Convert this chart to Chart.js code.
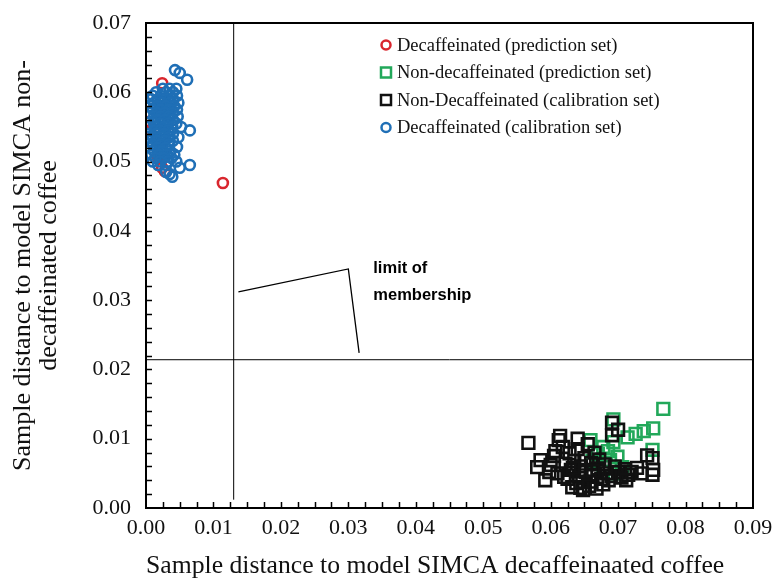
<!DOCTYPE html>
<html>
<head>
<meta charset="utf-8">
<script src="https://cdn.jsdelivr.net/npm/chart.js@4"></script>
<style>
  body { margin: 0; background: #fff; }
  #wrap { width: 774px; height: 582px; }
</style>
</head>
<body>
<div id="wrap"><canvas id="simcaChart" width="774" height="582"></canvas></div>
<script>
// Coomans plot data
const decafPredX = [0.0024, 0.0003, 0.0006, 0.0024, 0.0028, 0.0114, 0.0015, 0.0030, 0.0018];
const decafPredY = [0.0613, 0.0557, 0.0545, 0.0491, 0.0486, 0.0469, 0.0530, 0.0578, 0.0505];

const nonDecafPredX = [0.0767, 0.0752, 0.0738, 0.0726, 0.0714, 0.0693, 0.0693, 0.0678, 0.0659, 0.0688, 0.0699, 0.0751, 0.0706, 0.0678, 0.0670, 0.0685, 0.0662, 0.0695];
const nonDecafPredY = [0.0143, 0.0115, 0.0111, 0.0107, 0.0102, 0.0128, 0.0095, 0.0088, 0.0098, 0.0069, 0.0074, 0.0084, 0.0059, 0.0059, 0.0078, 0.0082, 0.0068, 0.0050];

const nonDecafCalX = [0.0567, 0.0614, 0.0691, 0.0691, 0.0743, 0.0751, 0.0752, 0.0751, 0.0728, 0.0632, 0.0644, 0.0592, 0.0580, 0.0585,
  0.0600, 0.0605, 0.0610, 0.0618, 0.0622, 0.0625, 0.0628, 0.0630, 0.0635, 0.0638, 0.0640, 0.0642, 0.0645, 0.0648, 0.0650, 0.0652,
  0.0655, 0.0658, 0.0660, 0.0662, 0.0665, 0.0668, 0.0670, 0.0672, 0.0675, 0.0678, 0.0680, 0.0683, 0.0686, 0.0690, 0.0695, 0.0700,
  0.0705, 0.0710, 0.0715, 0.0720, 0.0612, 0.0620, 0.0633, 0.0647, 0.0657, 0.0663, 0.0598, 0.0607, 0.0640, 0.0700, 0.0712, 0.0735];
const nonDecafCalY = [0.0094, 0.0104, 0.0123, 0.0105, 0.0076, 0.0072, 0.0055, 0.0048, 0.0058, 0.0030, 0.0029, 0.0040, 0.0059, 0.0069,
  0.0062, 0.0075, 0.0050, 0.0088, 0.0064, 0.0042, 0.0079, 0.0055, 0.0068, 0.0036, 0.0085, 0.0047, 0.0060, 0.0026, 0.0072, 0.0052,
  0.0092, 0.0038, 0.0065, 0.0046, 0.0080, 0.0028, 0.0057, 0.0070, 0.0042, 0.0034, 0.0063, 0.0050, 0.0040, 0.0046, 0.0060, 0.0052,
  0.0044, 0.0056, 0.0048, 0.0052, 0.0098, 0.0045, 0.0058, 0.0038, 0.0032, 0.0054, 0.0052, 0.0082, 0.0100, 0.0113, 0.0040, 0.0050];

const decafCalX = [0.0043, 0.0050, 0.0061,
  0.0025, 0.0035, 0.0045, 0.0015, 0.0030, 0.0040, 0.0010, 0.0022, 0.0035, 0.0046,
  0.0008, 0.0018, 0.0028, 0.0040, 0.0012, 0.0024, 0.0036, 0.0048, 0.0006, 0.0017, 0.0030, 0.0042,
  0.0010, 0.0022, 0.0034, 0.0046, 0.0005, 0.0016, 0.0028, 0.0040, 0.0012, 0.0022, 0.0034, 0.0047,
  0.0013, 0.0018, 0.0028, 0.0040, 0.0012, 0.0021, 0.0033, 0.0045, 0.0004, 0.0015, 0.0027, 0.0039, 0.0052,
  0.0013, 0.0021, 0.0033, 0.0065, 0.0004, 0.0015, 0.0027, 0.0040, 0.0010, 0.0022, 0.0034, 0.0048,
  0.0005, 0.0016, 0.0028, 0.0040, 0.0010, 0.0022, 0.0034, 0.0006, 0.0017, 0.0029, 0.0046,
  0.0012, 0.0024, 0.0036, 0.0008, 0.0019, 0.0031, 0.0042, 0.0014, 0.0026, 0.0038,
  0.0010, 0.0021, 0.0033, 0.0045, 0.0018, 0.0030, 0.0065,
  0.0050, 0.0039, 0.0030, 0.0035];
const decafCalY = [0.0632, 0.0628, 0.0618,
  0.0605, 0.0605, 0.0605, 0.0600, 0.0600, 0.0600, 0.0595, 0.0595, 0.0595, 0.0595,
  0.0590, 0.0590, 0.0590, 0.0590, 0.0585, 0.0585, 0.0585, 0.0585, 0.0580, 0.0580, 0.0580, 0.0580,
  0.0575, 0.0575, 0.0575, 0.0575, 0.0570, 0.0570, 0.0570, 0.0570, 0.0565, 0.0565, 0.0565, 0.0565,
  0.0560, 0.0560, 0.0560, 0.0560, 0.0555, 0.0555, 0.0555, 0.0555, 0.0550, 0.0550, 0.0550, 0.0550, 0.0550,
  0.0545, 0.0545, 0.0545, 0.0545, 0.0540, 0.0540, 0.0540, 0.0540, 0.0535, 0.0535, 0.0535, 0.0535,
  0.0530, 0.0530, 0.0530, 0.0530, 0.0525, 0.0525, 0.0525, 0.0520, 0.0520, 0.0520, 0.0521,
  0.0515, 0.0515, 0.0515, 0.0510, 0.0510, 0.0510, 0.0510, 0.0505, 0.0505, 0.0505,
  0.0500, 0.0500, 0.0500, 0.0500, 0.0495, 0.0495, 0.0495,
  0.0491, 0.0478, 0.0485, 0.0482];

// limits of membership and the pointer lines of the label
const limitX = 0.013;
const limitY = 0.0214;
const pointerX = [0.0137, 0.0300, 0.0316];
const pointerY = [0.0312, 0.0345, 0.0224];

const xTicks = [0, 0.01, 0.02, 0.03, 0.04, 0.05, 0.06, 0.07, 0.08, 0.09];
const yTicks = [0, 0.01, 0.02, 0.03, 0.04, 0.05, 0.06, 0.07];

const legendLabels = ['Decaffeinated (prediction set)', 'Non-decaffeinated (prediction set)',
  'Non-Decaffeinated (calibration set)', 'Decaffeinated (calibration set)'];

const RED = '#d9262e', GREEN = '#22a85a', BLACK = '#111111', BLUE = '#1f6fb6';

function pts(xs, ys) {
  return xs.map((x, i) => ({ x: x, y: ys[i] }));
}

// frame, inside ticks, legend and label text
const decorPlugin = {
  id: 'decor',
  afterDraw(chart) {
    const ctx = chart.ctx;
    const a = chart.chartArea;
    const xs = chart.scales.x, ys = chart.scales.y;
    ctx.save();
    ctx.strokeStyle = '#000';
    ctx.lineWidth = 2;
    ctx.strokeRect(a.left, a.top, a.right - a.left, a.bottom - a.top);
    ctx.lineWidth = 1.5;
    ctx.beginPath();
    for (let i = 1; i < 36; i++) {
      const px = Math.round(xs.getPixelForValue(i * 0.0025)) + 0.5;
      ctx.moveTo(px, a.bottom);
      ctx.lineTo(px, a.bottom - 6);
    }
    for (let i = 1; i < 35; i++) {
      const py = Math.round(ys.getPixelForValue(i * 0.002)) + 0.5;
      ctx.moveTo(a.left, py);
      ctx.lineTo(a.left + 6, py);
    }
    ctx.stroke();

    // legend
    const colors = [RED, GREEN, BLACK, BLUE];
    const styles = ['circle', 'rect', 'rect', 'circle'];
    ctx.font = '18.5px "Liberation Serif"';
    ctx.textBaseline = 'middle';
    ctx.fillStyle = '#111';
    for (let i = 0; i < 4; i++) {
      const y = 45 + i * 27.5;
      ctx.strokeStyle = colors[i];
      ctx.lineWidth = 2.5;
      ctx.beginPath();
      if (styles[i] === 'circle') ctx.arc(386, y, 4.5, 0, Math.PI * 2);
      else ctx.rect(381, y - 5, 10, 10);
      ctx.stroke();
      ctx.fillText(legendLabels[i], 397, y + 1);
    }

    // label
    ctx.font = 'bold 16.5px "Liberation Sans"';
    ctx.fillStyle = '#000';
    ctx.textBaseline = 'middle';
    ctx.fillText('limit of', xs.getPixelForValue(0.0337), ys.getPixelForValue(0.0346));
    ctx.fillText('membership', xs.getPixelForValue(0.0337), ys.getPixelForValue(0.0307));
    ctx.restore();
  }
};

const ctx = document.getElementById('simcaChart').getContext('2d');
new Chart(ctx, {
  type: 'scatter',
  data: {
    datasets: [
      {
        type: 'line', label: 'limitY', data: [{ x: 0, y: limitY }, { x: 0.09, y: limitY }],
        borderColor: '#000', borderWidth: 1, pointRadius: 0, showLine: true, fill: false
      },
      {
        type: 'line', label: 'limitX', data: [{ x: limitX, y: 0.0012 }, { x: limitX, y: 0.07 }],
        borderColor: '#000', borderWidth: 1, pointRadius: 0, showLine: true, fill: false
      },
      {
        type: 'line', label: 'pointer', data: pts(pointerX, pointerY),
        borderColor: '#000', borderWidth: 1.3, pointRadius: 0, showLine: true, fill: false, tension: 0
      },
      {
        label: legendLabels[3], data: pts(decafCalX, decafCalY),
        pointStyle: 'circle', pointRadius: 5, borderColor: BLUE, borderWidth: 2.6, backgroundColor: 'rgba(0,0,0,0)'
      },
      {
        label: legendLabels[0], data: pts(decafPredX, decafPredY),
        pointStyle: 'circle', pointRadius: 5, borderColor: RED, borderWidth: 2.6, backgroundColor: 'rgba(0,0,0,0)'
      },
      {
        label: legendLabels[2], data: pts(nonDecafCalX, nonDecafCalY),
        pointStyle: 'rect', pointRadius: 8.3, borderColor: BLACK, borderWidth: 2.6, backgroundColor: 'rgba(0,0,0,0)'
      },
      {
        label: legendLabels[1], data: pts(nonDecafPredX, nonDecafPredY),
        pointStyle: 'rect', pointRadius: 8.3, borderColor: GREEN, borderWidth: 2.6, backgroundColor: 'rgba(0,0,0,0)'
      }
    ]
  },
  options: {
    responsive: false,
    animation: false,
    layout: { padding: { top: 23, right: 21, left: 0, bottom: 0 } },
    plugins: { legend: { display: false }, tooltip: { enabled: false } },
    scales: {
      x: {
        type: 'linear', min: 0, max: 0.09,
        afterBuildTicks: s => { s.ticks = xTicks.map(v => ({ value: v })); },
        afterFit: s => { s.height = 74; s.paddingLeft = 0; s.paddingRight = 0; },
        grid: { display: false, drawTicks: false },
        border: { display: true, color: '#000', width: 2 },
        ticks: {
          padding: 7, color: '#111', font: { family: 'Liberation Serif', size: 22 },
          callback: v => v.toFixed(2), maxRotation: 0
        },
        title: {
          display: true, align: 'start', text: 'Sample distance to model SIMCA decaffeinaated coffee',
          color: '#111', font: { family: 'Liberation Serif', size: 25.7 }, padding: { top: 2, bottom: 0 }
        }
      },
      y: {
        type: 'linear', min: 0, max: 0.07,
        afterBuildTicks: s => { s.ticks = yTicks.map(v => ({ value: v })); },
        afterFit: s => { s.width = 146; s.paddingTop = 0; s.paddingBottom = 0; },
        grid: { display: false, drawTicks: false },
        border: { display: true, color: '#000', width: 2 },
        ticks: {
          padding: 15, color: '#111', font: { family: 'Liberation Serif', size: 22 },
          callback: v => v.toFixed(2)
        },
        title: {
          display: true, text: ['Sample distance to model SIMCA non-', 'decaffeinated coffee'],
          color: '#111', font: { family: 'Liberation Serif', size: 26, lineHeight: 0.97 }, padding: { top: 11, bottom: 0 }
        }
      }
    }
  },
  plugins: [decorPlugin]
});
</script>
</body>
</html>
